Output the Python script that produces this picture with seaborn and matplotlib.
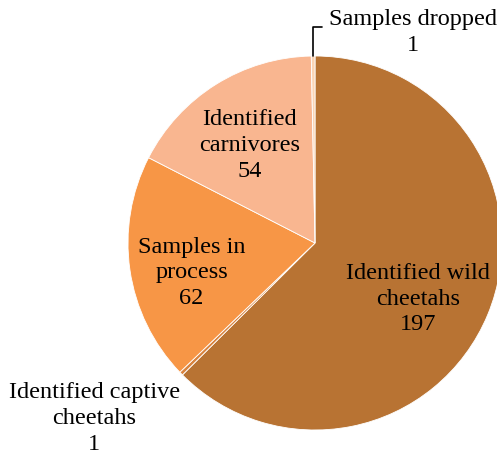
import numpy as np
import matplotlib
matplotlib.use('Agg')
import matplotlib.pyplot as plt
import seaborn as sns

# ─── Data ─────────────────────────────────────────────────────────────────────
categories = ['Identified wild\ncheetahs', 'Identified captive\ncheetahs',
              'Samples in\nprocess', 'Identified\ncarnivores', 'Samples dropped']
counts     = [197, 1, 62, 54, 1]
colors     = ['#B87333', '#D9843F', '#F79646', '#F9B690', '#FBD5B5']

# label centres in units of the pie radius (pie centred at 0,0)
label_pos  = [(0.55, -0.30), (-1.18, -0.94), (-0.66, -0.16),
              (-0.35, 0.52), (0.525, 1.125)]

sns.set_style('white')
plt.rcParams['font.family'] = ['Liberation Serif', 'DejaVu Serif']

fig = plt.figure(figsize=(4.97, 4.55), dpi=100)
ax = fig.add_axes([0, 0, 1, 1])

ax.pie(counts, colors=colors, startangle=90, counterclock=False, radius=1,
       wedgeprops=dict(edgecolor='white', linewidth=0.6))

for name, n, (x, y) in zip(categories, counts, label_pos):
    ax.text(x, y, f'{name}\n{n}', ha='center', va='center',
            fontsize=17.5, linespacing=1.3, color='black')

# leader line for the tiny "Samples dropped" slice
edge = 90 - 360 * sum(counts[:-1]) / sum(counts) - 360 * counts[-1] / sum(counts) / 2
ang = np.deg2rad(edge)
x0, y0 = np.cos(ang), np.sin(ang)
ax.plot([x0, x0, x0 + 0.05], [y0, 1.155, 1.155], color='black', lw=1.2)

# pie centre sits at (315, 243) px with radius 187 px
r = 187
ax.set_xlim(-315 / r, (497 - 315) / r)
ax.set_ylim(-(455 - 243) / r, 243 / r)
ax.set_aspect('equal')
ax.axis('off')

fig.savefig('out.png', dpi=100)
